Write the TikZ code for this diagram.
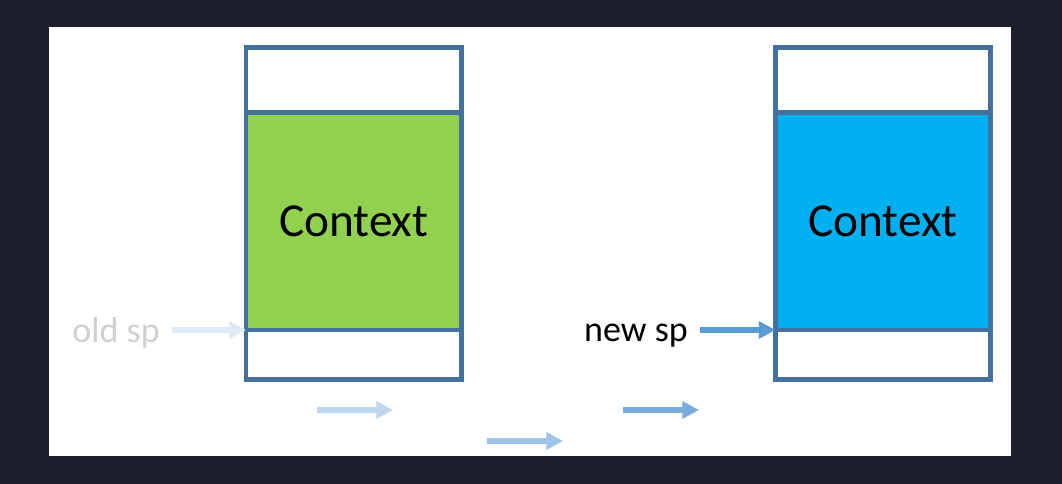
\documentclass[tikz,border=0pt]{standalone}
\usepackage{fontspec}
\setmainfont{Carlito}
\usetikzlibrary{arrows.meta}

\definecolor{pagebg}{HTML}{1C1E2B}
\definecolor{frameblue}{HTML}{41719C}
\definecolor{ctxgreen}{HTML}{92D050}
\definecolor{ctxcyan}{HTML}{00B0F0}
\definecolor{oldgray}{HTML}{D0D0D0}
\definecolor{arrA}{HTML}{DEEBF7}
\definecolor{arrB}{HTML}{BDD7EE}
\definecolor{arrC}{HTML}{9DC3E6}
\definecolor{arrD}{HTML}{78ACDD}
\definecolor{arrE}{HTML}{5B9BD5}

\tikzset{
	frame/.style={draw=frameblue,line width=3.4pt},
	ctx/.style={anchor=base,font=\fontsize{35.5}{40}\selectfont},
	splabel/.style={anchor=base east,inner sep=9pt,font=\fontsize{27}{32}\selectfont},
	sparrow/.style={line width=4.2pt,-{Triangle[length=12.5pt,width=12.5pt]}}
}

\begin{document}
\begin{tikzpicture}[x=0.75pt,y=-0.75pt]
	\fill[pagebg] (0,0) rectangle (1062,484);
	\useasboundingbox (0,0) rectangle (1062,484);
	\fill[white] (49,27) rectangle (1011,456);

	% left stack
	\coordinate (LTL) at (246,47.5);
	\coordinate (LBR) at (461.5,379.5);
	\coordinate (LMidA) at (246,112.5);
	\coordinate (LMidB) at (461.5,330);
	\fill[ctxgreen] (LMidA) rectangle (LMidB);
	\draw[frame] (LTL) rectangle (LBR);
	\draw[frame] (LMidA) -- (LMidA -| LBR);
	\draw[frame] (LMidB -| LTL) -- (LMidB);
	\node[ctx] (ctxL) at (353.75,237) {Context};

	% right stack
	\coordinate (RTL) at (775.5,47.5);
	\coordinate (RBR) at (990.5,379.5);
	\coordinate (RMidA) at (775.5,112.5);
	\coordinate (RMidB) at (990.5,330);
	\fill[ctxcyan] (RMidA) rectangle (RMidB);
	\draw[frame] (RTL) rectangle (RBR);
	\draw[frame] (RMidA) -- (RMidA -| RBR);
	\draw[frame] (RMidB -| RTL) -- (RMidB);
	\node[ctx] (ctxR) at (883,237) {Context};

	% stack pointers
	\node[splabel,text=oldgray] (oldsp) at (172,342) {old sp};
	\node[splabel] (newsp) at (700,341) {new sp};
	\coordinate (oldTip) at (LMidB -| LTL);
	\coordinate (newTip) at (RMidB -| RTL);
	\draw[sparrow,arrA] (oldsp.east |- oldTip) -- (oldTip);
	\draw[sparrow,arrE] (newsp.east |- newTip) -- (newTip);

	% sp moving
	\coordinate (m1a) at (317,410);
	\coordinate (m1b) at (393,410);
	\coordinate (m2a) at (487,441);
	\coordinate (m2b) at (563,441);
	\coordinate (m3a) at (623,410);
	\coordinate (m3b) at (699,410);
	\draw[sparrow,arrB] (m1a) -- (m1b);
	\draw[sparrow,arrC] (m2a) -- (m2b);
	\draw[sparrow,arrD] (m3a) -- (m3b);
\end{tikzpicture}
\end{document}
